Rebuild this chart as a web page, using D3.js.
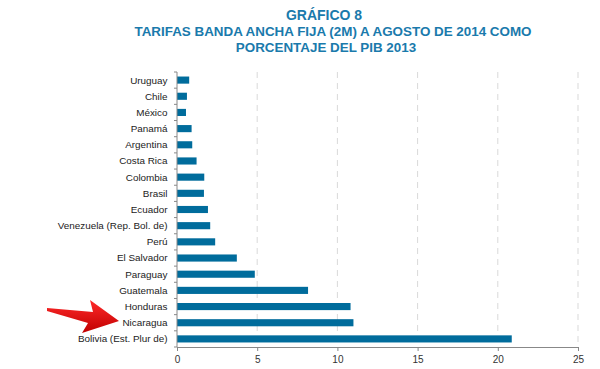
<!DOCTYPE html>
<html><head><meta charset="utf-8">
<script src="https://cdn.jsdelivr.net/npm/d3@7"></script>
<style>body{margin:0;background:#fff;font-family:"Liberation Sans",Arial,sans-serif}</style>
</head><body><svg id="c" width="600" height="369"></svg>
<script>
const titleLines = ["GRÁFICO 8", "TARIFAS BANDA ANCHA FIJA (2M) A AGOSTO DE 2014 COMO", "PORCENTAJE DEL PIB 2013"];
const categories = ["Uruguay","Chile","México","Panamá","Argentina","Costa Rica","Colombia","Brasil","Ecuador","Venezuela  (Rep. Bol. de)","Perú","El Salvador","Paraguay","Guatemala","Honduras","Nicaragua","Bolivia (Est. Plur de)"];
const values = [0.76,0.62,0.56,0.91,0.95,1.22,1.70,1.68,1.93,2.07,2.38,3.73,4.85,8.17,10.82,11.0,20.87];
const xTicks = [0,5,10,15,20,25];

const svg = d3.select("#c");
const m = {l:177, r:578, t:72, b:347};
const x = d3.scaleLinear().domain([0,25]).range([m.l, m.r]);
const y = d3.scaleBand().domain(categories).range([m.t, m.b]).paddingInner(0.56).paddingOuter(0.28);

// title
const tx = [324, 333, 326];
const tfs = [14, 13.4, 13.4];
svg.append("g").selectAll("text").data(titleLines).join("text")
  .attr("x",(d,i)=>tx[i]).attr("y",(d,i)=>20+i*16.2)
  .attr("text-anchor","middle").attr("fill","#1a7aac")
  .attr("font-weight","bold").attr("font-size",(d,i)=>tfs[i]+"px").text(d=>d);

// grid
svg.append("g").selectAll("line").data(xTicks.slice(1)).join("line")
  .attr("x1",d=>x(d)).attr("x2",d=>x(d)).attr("y1",m.t).attr("y2",m.b)
  .attr("stroke","#d9d9d9").attr("stroke-width",1).attr("stroke-dasharray","6,5");

// bars
svg.append("g").selectAll("rect").data(categories).join("rect")
  .attr("x",x(0)).attr("y",d=>y(d)).attr("height",y.bandwidth())
  .attr("width",(d,i)=>x(values[i])-x(0)).attr("fill","#006c9c");

// x axis
const xa = svg.append("g").attr("transform",`translate(0,${m.b})`)
  .call(d3.axisBottom(x).tickValues(xTicks).tickSize(4).tickFormat(d3.format("d")));
xa.select(".domain").attr("stroke","#888");
xa.selectAll(".tick line").attr("stroke","#888");
xa.selectAll("text").attr("font-size","10px").attr("fill","#333").attr("font-family","Liberation Sans, Arial, sans-serif").attr("dy","0.9em");

// y axis line with boundary ticks
const bounds = d3.range(categories.length+1).map(i => m.t + i*(m.b-m.t)/categories.length);
svg.append("line").attr("x1",m.l).attr("x2",m.l).attr("y1",m.t).attr("y2",m.b).attr("stroke","#888");
svg.append("g").selectAll("line").data(bounds).join("line")
  .attr("x1",m.l-3).attr("x2",m.l).attr("y1",d=>d).attr("y2",d=>d).attr("stroke","#888");

// y labels
svg.append("g").selectAll("text").data(categories).join("text")
  .attr("x",167.5).attr("y",d=>y(d)+y.bandwidth()/2).attr("dy","0.35em")
  .attr("text-anchor","end").attr("font-size","9.9px").attr("fill","#222").text(d=>d);

// red arrow
const defs = svg.append("defs");
const g = defs.append("linearGradient").attr("id","ag").attr("x1","0").attr("y1","0").attr("x2","0").attr("y2","1");
g.append("stop").attr("offset","0").attr("stop-color","#ff2a2a");
g.append("stop").attr("offset","1").attr("stop-color","#c00000");
const arrowPts = [[47,308],[93,312],[90,300],[119,321],[82,333],[88,323],[47,311]];
svg.append("path").attr("d", d3.line()(arrowPts)+"Z").attr("fill","url(#ag)");
</script></body></html>
